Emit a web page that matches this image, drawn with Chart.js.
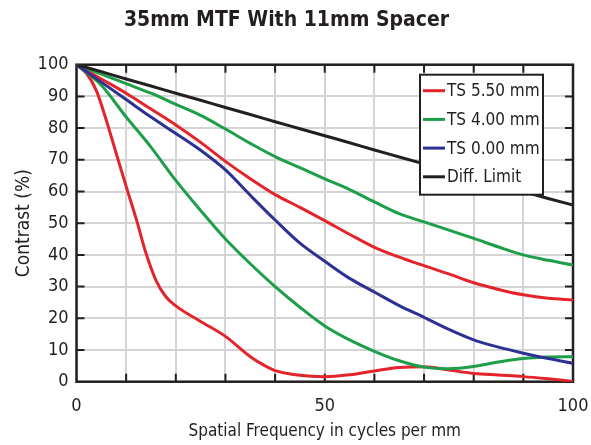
<!DOCTYPE html>
<html>
<head>
<meta charset="utf-8">
<script src="https://cdn.jsdelivr.net/npm/chart.js@4"></script>
<style>
  html, body { margin: 0; padding: 0; background: #fff; }
  #wrap { width: 591px; height: 445px; }
</style>
</head>
<body>
<div id="wrap"><canvas id="myChart" width="591" height="445"></canvas></div>
<script>
const FONT = '"Liberation Sans Narrow", "DejaVu Sans Condensed", "Roboto Condensed", Roboto, sans-serif';
const INK = '#231f20';

// spatial frequency (cycles per mm)
const freq = [0, 5, 10, 15, 20, 25, 30, 35, 40, 45, 50, 55, 60, 65, 70, 75, 80, 85, 90, 95, 100];
const freqRedLow = [0, 2, 4, 6, 8, 10, 12, 14, 16, 18, 20, 25, 30, 35, 38, 40, 45, 50, 55, 60, 65, 70, 75, 80, 85, 90, 95, 100];

// contrast (%)
const ts550Low = [100, 97.3, 91.8, 82.5, 72, 61.6, 51.5, 40.5, 32, 26.8, 23.9, 19, 14.3, 7.9, 5, 3.5, 2, 1.6, 2.2, 3.4, 4.5, 4.7, 3.7, 2.6, 2.1, 1.6, 0.9, 0.1];
const ts550High = [100, 95.5, 91, 86, 81, 75.5, 69.5, 64, 59, 55, 50.8, 46.5, 42.4, 39.3, 36.6, 34, 31.2, 29.1, 27.4, 26.3, 25.8];
const ts400Low = [100, 93.5, 83.5, 74, 63.5, 54, 45, 37.2, 30, 23.5, 17.6, 13.2, 9.6, 6.6, 4.6, 4.1, 4.8, 6.2, 7.3, 7.8, 7.9];
const ts400High = [100, 97, 94, 91, 87.5, 84, 79.7, 75.2, 71, 67.5, 64, 60.6, 56.7, 53, 50.4, 47.8, 45.2, 42.5, 40, 38.3, 36.8];
const ts000 = [100, 94.5, 89, 83.5, 78.3, 73, 66.8, 58.8, 51, 43.7, 38, 32.6, 28.3, 24, 20.3, 16.5, 13.2, 10.9, 9, 7.3, 5.8];
const diffLimit = [100, 97.8, 95.5, 93.3, 91, 88.8, 86.5, 84.3, 82, 79.8, 77.6, 75.4, 73.1, 70.9, 68.7, 66.5, 64.3, 62.1, 60, 57.8, 55.7];

const RED = '#e4242b', GREEN = '#1d9e48', BLUE = '#2e3192', BLACK = '#231f20';

function pts(xs, ys) {
  return xs.map(function (x, i) { return { x: x, y: ys[i] }; });
}

function line(label, xs, ys, color, inLegend) {
  return {
    label: label,
    data: pts(xs, ys),
    borderColor: color,
    backgroundColor: color,
    borderWidth: 3,
    pointRadius: 0,
    fill: false,
    cubicInterpolationMode: 'monotone',
    inLegend: inLegend
  };
}

// inward tick marks + black frame around the plot
const framePlugin = {
  id: 'frame',
  beforeDatasetsDraw(chart) {
    const a = chart.chartArea, c = chart.ctx;
    const xs = chart.scales.x, ys = chart.scales.y;
    c.save();
    c.strokeStyle = INK;
    c.lineWidth = 2;
    c.beginPath();
    for (let v = 10; v < 100; v += 10) {
      const px = xs.getPixelForValue(v);
      c.moveTo(px, a.bottom); c.lineTo(px, a.bottom - 8);
      c.moveTo(px, a.top); c.lineTo(px, a.top + 8);
      const py = ys.getPixelForValue(v);
      c.moveTo(a.left, py); c.lineTo(a.left + 8, py);
      c.moveTo(a.right, py); c.lineTo(a.right - 8, py);
    }
    c.stroke();
    c.lineWidth = 2.5;
    c.strokeRect(a.left, a.top, a.right - a.left, a.bottom - a.top);
    c.restore();
  }
};

// boxed legend inside the plot, top right
const boxLegend = {
  id: 'boxLegend',
  afterDatasetsDraw(chart) {
    const a = chart.chartArea, c = chart.ctx;
    const items = [];
    chart.data.datasets.forEach(function (d) { if (d.inLegend) items.push(d); });
    items.sort(function (p, q) { return p.inLegend - q.inLegend; });
    const w = 123, h = 120;
    const x0 = a.right - 30 - w, y0 = a.top + 10;
    c.save();
    c.fillStyle = '#fff';
    c.fillRect(x0, y0, w, h);
    c.strokeStyle = INK;
    c.lineWidth = 2;
    c.strokeRect(x0, y0, w, h);
    c.font = '17px ' + FONT;
    c.textBaseline = 'middle';
    c.fillStyle = INK;
    items.forEach(function (d, i) {
      const y = y0 + 16 + i * 28.7;
      c.strokeStyle = d.borderColor;
      c.lineWidth = 3;
      c.beginPath();
      c.moveTo(x0 + 3, y); c.lineTo(x0 + 25, y);
      c.stroke();
      c.fillText(d.label, x0 + 27, y + 1);
    });
    c.restore();
  }
};

const ctx = document.getElementById('myChart').getContext('2d');

const myChart = new Chart(ctx, {
  type: 'line',
  data: {
    datasets: [
      line('Diff. Limit', freq, diffLimit, BLACK, 4),
      line('TS 0.00 mm', freq, ts000, BLUE, 3),
      line('TS 4.00 mm', freq, ts400High, GREEN, 2),
      line('TS 4.00 mm', freq, ts400Low, GREEN, 0),
      line('TS 5.50 mm', freq, ts550High, RED, 1),
      line('TS 5.50 mm', freqRedLow, ts550Low, RED, 0)
    ]
  },
  options: {
    responsive: false,
    animation: false,
    layout: { padding: { left: 0, right: 18, top: 0, bottom: 0 } },
    plugins: {
      legend: { display: false },
      tooltip: { enabled: false },
      title: {
        display: true,
        text: '35mm MTF With 11mm Spacer',
        color: INK,
        font: { family: FONT, size: 21, weight: 'bold' },
        padding: { top: 8, bottom: 31.5 }
      }
    },
    scales: {
      x: {
        type: 'linear',
        min: 0,
        max: 100,
        afterFit(s) { s.height = 63.3; s.paddingLeft = 0; s.paddingRight = 0; },
        border: { display: false },
        grid: { color: '#d4d4d4', lineWidth: 2, drawTicks: false },
        ticks: {
          stepSize: 10,
          autoSkip: false,
          maxRotation: 0,
          padding: 14,
          color: INK,
          font: { family: FONT, size: 18 },
          callback: function (v) { return v % 50 === 0 ? v : ''; }
        },
        title: {
          display: true,
          text: 'Spatial Frequency in cycles per mm',
          color: INK,
          font: { family: FONT, size: 17 },
          padding: { top: 0, bottom: 3 }
        }
      },
      y: {
        min: 0,
        max: 100,
        afterFit(s) { s.width = 76.5; s.paddingTop = 0; s.paddingBottom = 0; },
        border: { display: false },
        grid: { color: '#d4d4d4', lineWidth: 2, drawTicks: false },
        ticks: {
          stepSize: 10,
          padding: 8,
          color: INK,
          font: { family: FONT, size: 18 }
        },
        title: {
          display: true,
          text: 'Contrast (%)',
          color: INK,
          font: { family: FONT, size: 19 },
          padding: { top: 13, bottom: 0 }
        }
      }
    }
  },
  plugins: [framePlugin, boxLegend]
});
</script>
</body>
</html>
